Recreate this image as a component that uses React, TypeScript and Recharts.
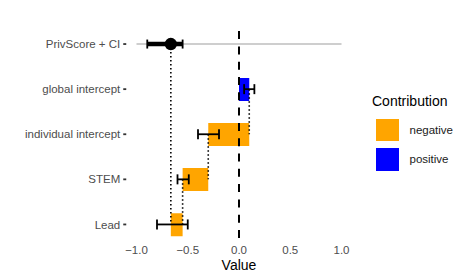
import React from "react";
import {
  ComposedChart,
  Bar,
  Cell,
  XAxis,
  YAxis,
  Line,
  Scatter,
  ErrorBar,
  ReferenceLine,
} from "recharts";

// ---- data ----
const categories = ["PrivScore + CI", "global intercept", "individual intercept", "STEM", "Lead"];
const barStart: (number | null)[] = [null, 0, 0.1, -0.3, -0.55];
const barEnd: (number | null)[] = [null, 0.1, -0.3, -0.55, -0.665];
const errLow: (number | null)[] = [null, 0.05, -0.4, -0.6, -0.8];
const errHigh: (number | null)[] = [null, 0.15, -0.195, -0.49, -0.5];
const contribution: (string | null)[] = [null, "positive", "negative", "negative", "negative"];
const privScore = -0.665;
const privCi = [-0.895, -0.55];
const scoreScale = [-1, 1];
const xTicks = [-1, -0.5, 0, 0.5, 1];
const legendLabels = ["negative", "positive"];
const colors: Record<string, string> = { negative: "#FFA500", positive: "#0000FF" };

// connectors (dotted segments between rows)
const links = [
  { from: 0, to: 4, value: privScore },
  { from: 1, to: 2, value: barEnd[1] as number },
  { from: 2, to: 3, value: barEnd[2] as number },
  { from: 3, to: 4, value: barEnd[3] as number },
];

const rows = categories.map((name, i) => {
  const row: any = { name };
  if (barStart[i] != null && barEnd[i] != null) {
    const s = barStart[i] as number;
    const e = barEnd[i] as number;
    row.bar = [Math.min(s, e), Math.max(s, e)];
    row.end = e;
    row.err = [e - (errLow[i] as number), (errHigh[i] as number) - e];
    row.sign = contribution[i];
  }
  if (i === 0) {
    const mid = (scoreScale[0] + scoreScale[1]) / 2;
    row.rangeMid = mid;
    row.rangeErr = [mid - scoreScale[0], scoreScale[1] - mid];
    row.score = privScore;
    row.ci = [privScore - privCi[0], privCi[1] - privScore];
    row.ciCap = [privScore - privCi[0], privCi[1] - privScore];
  }
  links.forEach((l, k) => {
    row[`link${k}`] = i === l.from || i === l.to ? l.value : null;
  });
  return row;
});

const FONT = "'Liberation Sans', Arial, Helvetica, sans-serif";

const fmt = (v: number) => (v < 0 ? "\u2212" : "") + Math.abs(v).toFixed(1);

const Empty = () => <g />;
const Dot = (p: any) =>
  Number.isFinite(p.cx) && Number.isFinite(p.cy) ? (
    <circle cx={p.cx} cy={p.cy} r={6.2} fill="#000" />
  ) : (
    <g />
  );

export default function App() {
  return (
    <div style={{ position: "absolute", left: 0, top: 0, width: 467, height: 280, fontFamily: FONT, background: "#fff" }}>
      <ComposedChart
        width={467}
        height={280}
        data={rows}
        layout="vertical"
        margin={{ top: 29, right: 115.25, bottom: 0, left: 0 }}
        barCategoryGap="25%"
        style={{ fontFamily: FONT }}
      >
        <XAxis
          type="number"
          domain={[-1.1, 1.1]}
          allowDataOverflow
          ticks={xTicks}
          tickFormatter={fmt}
          axisLine={false}
          tickLine={false}
          tickSize={0}
          tickMargin={8}
          height={42}
          tick={{ fill: "#4D4D4D", fontSize: 11.5 }}
          label={{ value: "Value", position: "insideBottom", offset: 10, fill: "#000", fontSize: 14 }}
        />
        <YAxis
          type="category"
          dataKey="name"
          width={126.25}
          allowDuplicatedCategory={false}
          axisLine={false}
          tickLine={{ stroke: "#333", strokeWidth: 1.8 }}
          tickSize={3}
          tickMargin={3}
          interval={0}
          padding={{ top: -7.5, bottom: -9 }}
          tick={{ fill: "#4D4D4D", fontSize: 11.5 }}
        />
        <Bar dataKey="bar" isAnimationActive={false} legendType="none">
          {rows.map((r, i) => (
            <Cell key={i} fill={r.sign ? colors[r.sign] : "none"} />
          ))}
        </Bar>
        {links.map((l, k) => (
          <Line
            key={k}
            dataKey={`link${k}`}
            stroke="#000"
            strokeWidth={1.6}
            strokeDasharray="1.5 2.5"
            dot={false}
            activeDot={false}
            connectNulls
            isAnimationActive={false}
            legendType="none"
          />
        ))}
        <ReferenceLine x={0} stroke="#000" strokeWidth={2} strokeDasharray="8 7.3" />
        <Scatter dataKey="rangeMid" shape={Empty} isAnimationActive={false} legendType="none">
          <ErrorBar dataKey="rangeErr" direction="x" width={0} stroke="#BEBEBE" strokeWidth={1.6} />
        </Scatter>
        <Scatter dataKey="end" shape={Empty} isAnimationActive={false} legendType="none">
          <ErrorBar dataKey="err" direction="x" width={5} stroke="#000" strokeWidth={1.8} />
        </Scatter>
        <Scatter dataKey="score" shape={Dot} isAnimationActive={false} legendType="none">
          <ErrorBar dataKey="ci" direction="x" width={0} stroke="#000" strokeWidth={4.6} />
          <ErrorBar dataKey="ciCap" direction="x" width={4.5} stroke="#000" strokeWidth={1.8} />
        </Scatter>
      </ComposedChart>

      <div style={{ position: "absolute", left: 372, top: 93, fontSize: 14, color: "#000", lineHeight: "17px", whiteSpace: "nowrap" }}>
        Contribution
      </div>
      {legendLabels.map((lab, i) => (
        <React.Fragment key={lab}>
          <div
            style={{
              position: "absolute",
              left: 375.5,
              top: 118.5 + i * 29.5,
              width: 23,
              height: 22.5,
              background: colors[lab],
            }}
          />
          <div
            style={{
              position: "absolute",
              left: 409.5,
              top: 122.5 + i * 29.5,
              fontSize: 11.5,
              color: "#1A1A1A",
              lineHeight: "14px",
              whiteSpace: "nowrap",
            }}
          >
            {lab}
          </div>
        </React.Fragment>
      ))}
    </div>
  );
}
